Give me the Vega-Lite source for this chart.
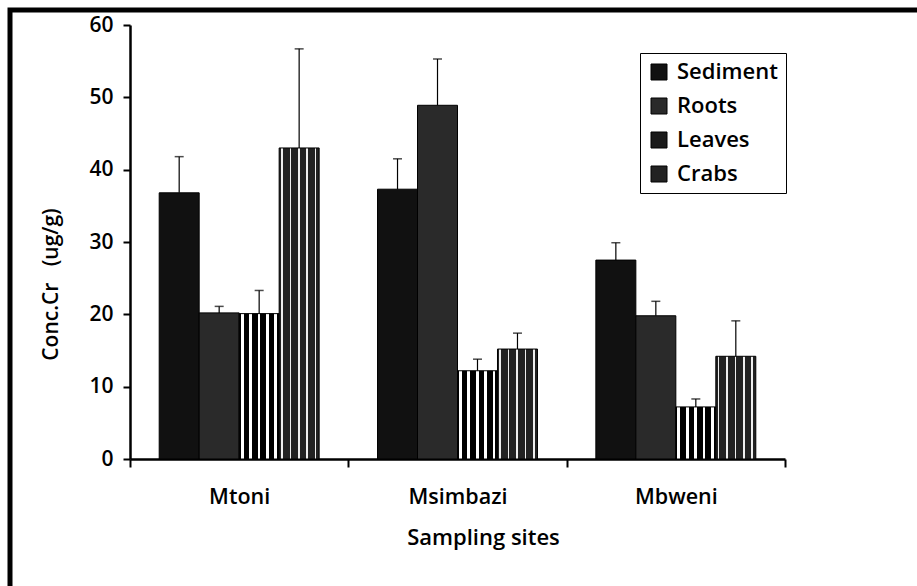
{
  "$schema": "https://vega.github.io/schema/vega-lite/v6.json",
  "width": 907,
  "height": 576,
  "autosize": {"type": "none"},
  "padding": {"left": 10, "top": 10, "right": 0, "bottom": 0},
  "background": "white",
  "config": {
    "view": {"stroke": "black", "strokeWidth": 5, "strokeDash": [907, 1483, 576]},
    "font": "Open Sans",
    "axis": {
      "grid": false,
      "domainColor": "black",
      "domainWidth": 2.5,
      "tickColor": "black",
      "tickWidth": 2,
      "labelColor": "black",
      "titleColor": "black",
      "labelFont": "Open Sans",
      "titleFont": "Open Sans"
    }
  },
  "data": {
    "values": [
      {"site": "Mtoni", "type": "Sediment", "value": 36.8, "upper": 41.8},
      {"site": "Mtoni", "type": "Roots", "value": 20.2, "upper": 21.1},
      {"site": "Mtoni", "type": "Leaves", "value": 20.1, "upper": 23.3},
      {"site": "Mtoni", "type": "Crabs", "value": 43.0, "upper": 56.7},
      {"site": "Msimbazi", "type": "Sediment", "value": 37.3, "upper": 41.5},
      {"site": "Msimbazi", "type": "Roots", "value": 48.9, "upper": 55.3},
      {"site": "Msimbazi", "type": "Leaves", "value": 12.2, "upper": 13.8},
      {"site": "Msimbazi", "type": "Crabs", "value": 15.2, "upper": 17.4},
      {"site": "Mbweni", "type": "Sediment", "value": 27.5, "upper": 29.9},
      {"site": "Mbweni", "type": "Roots", "value": 19.8, "upper": 21.8},
      {"site": "Mbweni", "type": "Leaves", "value": 7.2, "upper": 8.3},
      {"site": "Mbweni", "type": "Crabs", "value": 14.2, "upper": 19.1}
    ]
  },
  "encoding": {
    "x": {
      "field": "site",
      "type": "nominal",
      "sort": ["Mtoni", "Msimbazi", "Mbweni"],
      "scale": {"domain": ["Mtoni", "Msimbazi", "Mbweni"], "range": [120, 775], "paddingInner": 0, "paddingOuter": 0},
      "axis": {
        "title": "Sampling sites",
        "offset": -127,
        "tickBand": "extent",
        "tickSize": 8,
        "labelAngle": 0,
        "labelPadding": 36,
        "labelBaseline": "alphabetic",
        "labelFontSize": 21.5,
        "labelFontWeight": 600,
        "titleFontSize": 22,
        "titleFontWeight": 600,
        "titleX": 473,
        "titleY": 85,
        "titleBaseline": "alphabetic",
        "titleAlign": "center"
      }
    },
    "xOffset": {
      "field": "type",
      "type": "nominal",
      "sort": ["Sediment", "Roots", "Leaves", "Crabs"],
      "scale": {"domain": ["Sediment", "Roots", "Leaves", "Crabs"], "paddingInner": 0, "paddingOuter": 0.73}
    },
    "y": {
      "field": "value",
      "type": "quantitative",
      "scale": {"domain": [0, 60], "range": [449, 15], "nice": false},
      "axis": {
        "title": "Conc.Cr\u00a0\u00a0 (ug/g)",
        "values": [0, 10, 20, 30, 40, 50, 60],
        "offset": -120,
        "tickSize": 7,
        "labelPadding": 10,
        "labelFontSize": 21,
        "labelFontWeight": 600,
        "titleFontSize": 21,
        "titleFontWeight": 600,
        "titleX": -73,
        "titleY": 274,
        "titleAngle": -90,
        "titleBaseline": "alphabetic",
        "titleAlign": "center"
      }
    }
  },
  "layer": [
    {
      "mark": {"type": "bar", "stroke": "black", "strokeWidth": 1},
      "encoding": {
        "fill": {
          "condition": [
            {
              "test": "datum.type === 'Leaves'",
              "value": {
                "gradient": "linear", "x1": 0, "y1": 0, "x2": 1, "y2": 0,
                "stops": [
                  {"offset": 0, "color": "#000"}, {"offset": 0.04, "color": "#000"},
                  {"offset": 0.04, "color": "#fff"}, {"offset": 0.11, "color": "#fff"},
                  {"offset": 0.11, "color": "#000"}, {"offset": 0.25, "color": "#000"},
                  {"offset": 0.25, "color": "#fff"}, {"offset": 0.32, "color": "#fff"},
                  {"offset": 0.32, "color": "#000"}, {"offset": 0.46, "color": "#000"},
                  {"offset": 0.46, "color": "#fff"}, {"offset": 0.53, "color": "#fff"},
                  {"offset": 0.53, "color": "#000"}, {"offset": 0.67, "color": "#000"},
                  {"offset": 0.67, "color": "#fff"}, {"offset": 0.74, "color": "#fff"},
                  {"offset": 0.74, "color": "#000"}, {"offset": 0.88, "color": "#000"},
                  {"offset": 0.88, "color": "#fff"}, {"offset": 0.95, "color": "#fff"},
                  {"offset": 0.95, "color": "#000"}, {"offset": 1, "color": "#000"}
                ]
              }
            },
            {
              "test": "datum.type === 'Crabs'",
              "value": {
                "gradient": "linear", "x1": 0, "y1": 0, "x2": 1, "y2": 0,
                "stops": [
                  {"offset": 0, "color": "#222"}, {"offset": 0.05, "color": "#222"},
                  {"offset": 0.05, "color": "#eee"}, {"offset": 0.09, "color": "#eee"},
                  {"offset": 0.09, "color": "#222"}, {"offset": 0.26, "color": "#222"},
                  {"offset": 0.26, "color": "#eee"}, {"offset": 0.30, "color": "#eee"},
                  {"offset": 0.30, "color": "#222"}, {"offset": 0.47, "color": "#222"},
                  {"offset": 0.47, "color": "#eee"}, {"offset": 0.51, "color": "#eee"},
                  {"offset": 0.51, "color": "#222"}, {"offset": 0.68, "color": "#222"},
                  {"offset": 0.68, "color": "#eee"}, {"offset": 0.72, "color": "#eee"},
                  {"offset": 0.72, "color": "#222"}, {"offset": 0.89, "color": "#222"},
                  {"offset": 0.89, "color": "#eee"}, {"offset": 0.93, "color": "#eee"},
                  {"offset": 0.93, "color": "#222"}, {"offset": 1, "color": "#222"}
                ]
              }
            }
          ],
          "field": "type",
          "type": "nominal",
          "scale": {"domain": ["Sediment", "Roots", "Leaves", "Crabs"], "range": ["#111111", "#2a2a2a", "#1a1a1a", "#222222"]},
          "legend": {
            "orient": "none",
            "legendX": 630,
            "legendY": 43,
            "title": null,
            "strokeColor": "black",
            "padding": 8,
            "symbolType": "square",
            "symbolSize": 256,
            "symbolStrokeColor": "black",
            "symbolStrokeWidth": 1,
            "labelFontSize": 22,
            "labelFontWeight": 600,
            "labelFont": "Open Sans",
            "labelColor": "black",
            "labelOffset": 7,
            "rowPadding": 12
          }
        }
      }
    },
    {
      "mark": {"type": "rule", "color": "black", "strokeWidth": 1.2},
      "encoding": {
        "y": {"field": "value", "type": "quantitative"},
        "y2": {"field": "upper"}
      }
    },
    {
      "mark": {"type": "tick", "color": "black", "thickness": 1.5, "size": 9, "orient": "horizontal"},
      "encoding": {
        "y": {"field": "upper", "type": "quantitative", "title": "Conc.Cr\u00a0\u00a0 (ug/g)"}
      }
    }
  ]
}
